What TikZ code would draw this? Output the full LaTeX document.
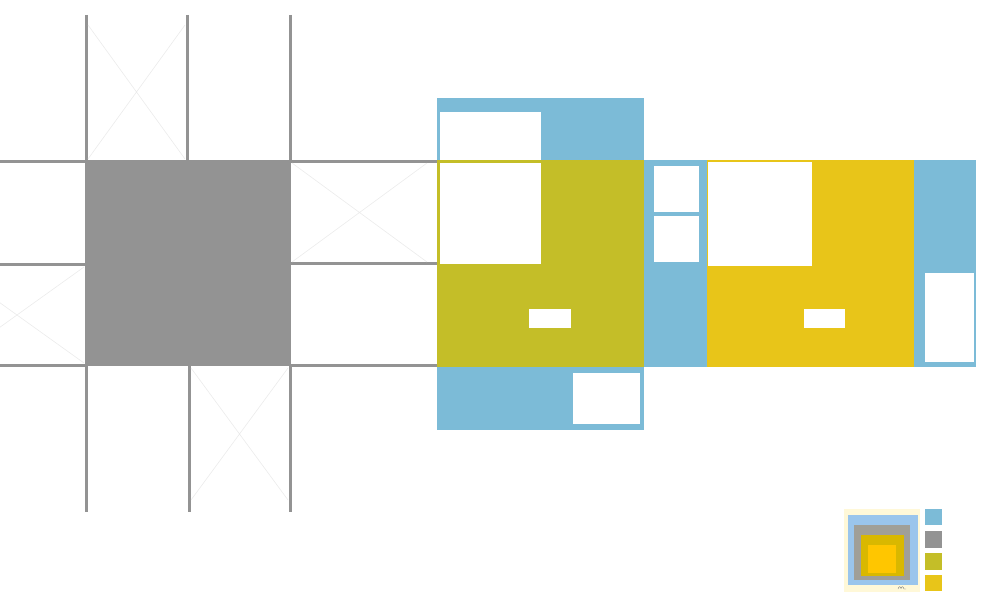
\documentclass[tikz,border=0pt]{standalone}
\definecolor{cblue}{HTML}{7CBBD7}
\definecolor{colive}{HTML}{C4BE28}
\definecolor{cyellow}{HTML}{E8C519}
\definecolor{cgray}{HTML}{939393}
\definecolor{cfaint}{HTML}{EBEBEB}
\definecolor{lcream}{HTML}{FFF8D8}
\definecolor{lblue}{HTML}{9AC5EC}
\definecolor{lgray}{HTML}{A09F98}
\definecolor{lgold}{HTML}{D9B800}
\definecolor{lorange}{HTML}{FFC600}
\tikzset{
  gridline/.style={draw=cgray,line width=3pt},
  faint/.style={draw=cfaint,line width=0.6pt},
  hole/.style={fill=white},
}
\begin{document}
\begin{tikzpicture}[x=1pt,y=-1pt]
\useasboundingbox (0,0) rectangle (982,610);
% ---- left grid ----
\fill[cgray] (85,160) rectangle (291,366);
\draw[gridline] (86,15) -- (86,160);
\draw[gridline] (187,15) -- (187,160);
\draw[gridline] (290,15) -- (290,160);
\draw[gridline] (86,366) -- (86,512);
\draw[gridline] (189,366) -- (189,512);
\draw[gridline] (290,366) -- (290,512);
\draw[gridline] (0,161) -- (85,161);
\draw[gridline] (0,264) -- (85,264);
\draw[gridline] (0,365) -- (85,365);
\draw[gridline] (291,161.5) -- (437,161.5);
\draw[gridline] (291,263.5) -- (437,263.5);
\draw[gridline] (291,365) -- (437,365);
% faint crosses
\draw[faint] (88,25) -- (185,159) (185,25) -- (88,159);
\draw[faint] (292,163) -- (427,262) (427,163) -- (292,262);
\draw[faint] (84,267) -- (-50,363) (84,363) -- (-50,267);
\draw[faint] (191,368) -- (288,500) (288,368) -- (191,500);
% ---- coloured composition ----
\fill[cblue] (437,97.5) rectangle (644,160);
\fill[hole] (440,112) rectangle (541,160);
\fill[colive] (437,160) rectangle (644,367);
\fill[hole] (440,163) rectangle (541,263.5);
\fill[hole] (528.5,308.5) rectangle (570.5,327.5);
\fill[cblue] (437,367) rectangle (644,429.5);
\fill[hole] (573,373) rectangle (640,423.5);
\fill[cblue] (644,160) rectangle (707,367);
\fill[hole] (654,166) rectangle (699,211.5);
\fill[hole] (654,216) rectangle (699,261.5);
\fill[cyellow] (707,160) rectangle (914,367);
\fill[hole] (708,162) rectangle (811.5,265.5);
\fill[hole] (803.5,308.5) rectangle (845,327.5);
\fill[cblue] (914,160) rectangle (976,367);
\fill[hole] (925,273) rectangle (974,361.5);
% ---- legend ----
\fill[lcream] (844,509) rectangle (920,591.5);
\fill[lblue] (847.5,515) rectangle (917.5,584.5);
\fill[lgray] (854,524.5) rectangle (910,580);
\fill[lgold] (860.5,534.5) rectangle (903.5,576);
\fill[lorange] (867.5,544.5) rectangle (895.5,572.5);
\draw[gray,line width=0.4pt] (898,589) .. controls (899,586) and (900,586) .. (901,588.5) .. controls (902,586) and (903,586) .. (904,589) -- (906,589);
\fill[cblue] (925,509) rectangle (942,525);
\fill[cgray] (925,531) rectangle (942,547.5);
\fill[colive] (925,553) rectangle (942,569.5);
\fill[cyellow] (925,575) rectangle (942,591);
\end{tikzpicture}
\end{document}
